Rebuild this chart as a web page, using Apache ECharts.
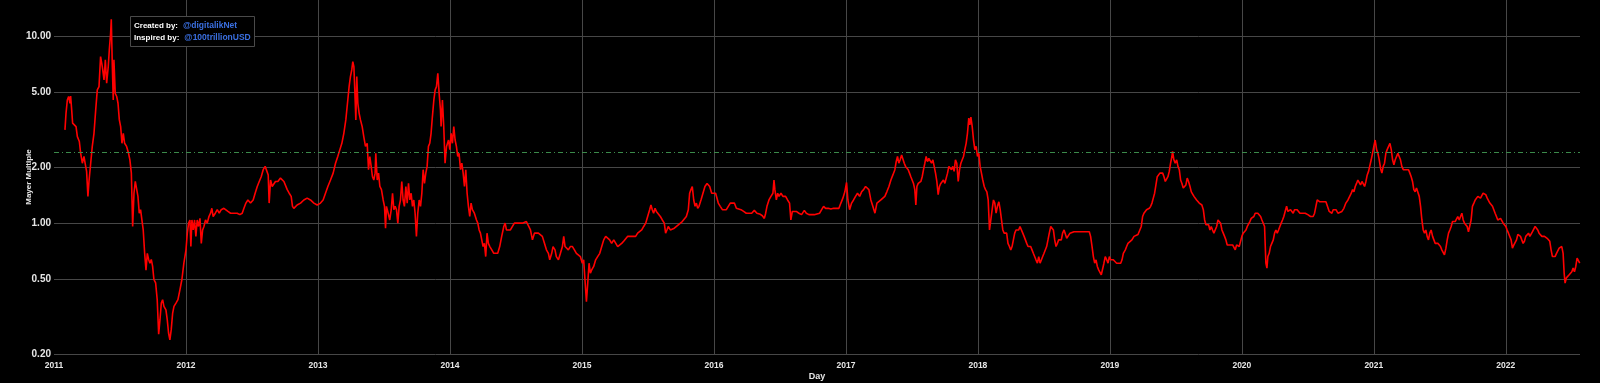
<!DOCTYPE html>
<html>
<head>
<meta charset="utf-8">
<script src="https://cdn.jsdelivr.net/npm/echarts@6/dist/echarts.min.js"></script>
<style>
html,body{margin:0;padding:0;background:#000;}
#chart{width:1600px;height:383px;}
</style>
</head>
<body>
<div id="chart"></div>
<script>
// Dates as decimal years
const dates = [
2011.083,2011.091,2011.101,2011.111,2011.121,2011.126,2011.134,2011.141,2011.156,2011.167,
2011.177,2011.192,2011.202,2011.215,2011.227,2011.240,2011.247,2011.257,2011.265,2011.278,
2011.290,2011.303,2011.316,2011.328,2011.341,2011.353,2011.366,2011.379,2011.389,2011.399,
2011.411,2011.419,2011.429,2011.434,2011.442,2011.449,2011.454,2011.464,2011.475,2011.485,
2011.495,2011.505,2011.515,2011.525,2011.535,2011.550,2011.565,2011.575,2011.586,2011.596,
2011.606,2011.616,2011.626,2011.636,2011.646,2011.656,2011.666,2011.676,2011.687,2011.697,
2011.707,2011.717,2011.727,2011.737,2011.747,2011.757,2011.770,2011.782,2011.793,2011.803,
2011.813,2011.823,2011.833,2011.848,2011.858,2011.868,2011.878,2011.888,2011.899,2011.909,
2011.924,2011.939,2011.954,2011.969,2011.984,2012.000,2012.010,2012.020,2012.030,2012.037,
2012.045,2012.055,2012.065,2012.075,2012.085,2012.095,2012.106,2012.116,2012.126,2012.136,
2012.148,2012.161,2012.174,2012.186,2012.196,2012.206,2012.222,2012.237,2012.252,2012.267,
2012.287,2012.302,2012.318,2012.338,2012.363,2012.388,2012.408,2012.426,2012.439,2012.454,
2012.469,2012.489,2012.509,2012.524,2012.540,2012.555,2012.570,2012.585,2012.600,2012.615,
2012.623,2012.630,2012.641,2012.653,2012.666,2012.678,2012.696,2012.716,2012.742,2012.757,
2012.767,2012.782,2012.797,2012.807,2012.817,2012.842,2012.868,2012.893,2012.918,2012.943,
2012.969,2012.994,2013.019,2013.039,2013.057,2013.075,2013.095,2013.115,2013.133,2013.150,
2013.166,2013.181,2013.196,2013.211,2013.226,2013.236,2013.246,2013.256,2013.264,2013.272,
2013.279,2013.287,2013.294,2013.302,2013.312,2013.322,2013.335,2013.347,2013.360,2013.373,
2013.383,2013.393,2013.403,2013.413,2013.423,2013.433,2013.438,2013.449,2013.459,2013.469,
2013.481,2013.494,2013.504,2013.512,2013.519,2013.532,2013.544,2013.555,2013.565,2013.575,
2013.585,2013.595,2013.605,2013.615,2013.625,2013.635,2013.645,2013.655,2013.666,2013.676,
2013.686,2013.696,2013.706,2013.716,2013.726,2013.736,2013.746,2013.756,2013.767,2013.777,
2013.787,2013.797,2013.807,2013.817,2013.827,2013.837,2013.847,2013.857,2013.867,2013.878,
2013.888,2013.898,2013.908,2013.918,2013.928,2013.933,2013.943,2013.953,2013.963,2013.974,
2013.989,2013.999,2014.009,2014.019,2014.029,2014.039,2014.049,2014.059,2014.069,2014.080,
2014.090,2014.100,2014.110,2014.120,2014.130,2014.140,2014.150,2014.160,2014.170,2014.185,
2014.201,2014.211,2014.221,2014.231,2014.241,2014.251,2014.261,2014.271,2014.281,2014.291,
2014.302,2014.317,2014.332,2014.347,2014.362,2014.377,2014.392,2014.408,2014.418,2014.428,
2014.443,2014.458,2014.473,2014.488,2014.503,2014.519,2014.534,2014.549,2014.564,2014.579,
2014.594,2014.610,2014.625,2014.640,2014.655,2014.670,2014.685,2014.700,2014.716,2014.731,
2014.746,2014.756,2014.771,2014.781,2014.796,2014.806,2014.822,2014.837,2014.852,2014.862,
2014.872,2014.882,2014.897,2014.912,2014.928,2014.943,2014.958,2014.973,2014.988,2015.003,
2015.013,2015.023,2015.034,2015.044,2015.054,2015.064,2015.074,2015.089,2015.104,2015.119,
2015.135,2015.150,2015.165,2015.180,2015.195,2015.210,2015.225,2015.241,2015.256,2015.271,
2015.286,2015.301,2015.316,2015.331,2015.347,2015.362,2015.377,2015.392,2015.407,2015.422,
2015.437,2015.453,2015.468,2015.483,2015.498,2015.513,2015.523,2015.533,2015.543,2015.554,
2015.564,2015.579,2015.594,2015.609,2015.624,2015.634,2015.644,2015.654,2015.670,2015.685,
2015.700,2015.715,2015.730,2015.745,2015.760,2015.775,2015.791,2015.806,2015.816,2015.826,
2015.836,2015.847,2015.857,2015.867,2015.877,2015.887,2015.902,2015.917,2015.932,2015.948,
2015.958,2015.968,2015.983,2015.998,2016.013,2016.023,2016.033,2016.048,2016.064,2016.079,
2016.094,2016.109,2016.124,2016.139,2016.155,2016.170,2016.185,2016.205,2016.225,2016.245,
2016.266,2016.286,2016.306,2016.326,2016.346,2016.367,2016.382,2016.392,2016.402,2016.417,
2016.432,2016.447,2016.455,2016.462,2016.473,2016.483,2016.493,2016.508,2016.523,2016.543,
2016.558,2016.573,2016.583,2016.594,2016.609,2016.624,2016.644,2016.664,2016.685,2016.700,
2016.720,2016.740,2016.760,2016.780,2016.801,2016.816,2016.831,2016.846,2016.866,2016.886,
2016.907,2016.927,2016.947,2016.962,2016.977,2016.992,2017.005,2017.015,2017.028,2017.043,
2017.058,2017.073,2017.088,2017.104,2017.119,2017.134,2017.149,2017.164,2017.174,2017.189,
2017.204,2017.220,2017.235,2017.250,2017.265,2017.280,2017.295,2017.310,2017.326,2017.341,
2017.356,2017.371,2017.381,2017.391,2017.401,2017.411,2017.422,2017.432,2017.442,2017.452,
2017.462,2017.472,2017.482,2017.492,2017.502,2017.512,2017.522,2017.530,2017.538,2017.548,
2017.558,2017.568,2017.578,2017.588,2017.598,2017.608,2017.618,2017.628,2017.639,2017.649,
2017.659,2017.669,2017.679,2017.689,2017.699,2017.709,2017.719,2017.729,2017.739,2017.750,
2017.760,2017.770,2017.780,2017.790,2017.800,2017.810,2017.820,2017.830,2017.840,2017.851,
2017.861,2017.871,2017.881,2017.891,2017.901,2017.911,2017.921,2017.931,2017.939,2017.947,
2017.957,2017.967,2017.977,2017.987,2017.997,2018.007,2018.017,2018.027,2018.037,2018.048,
2018.058,2018.068,2018.078,2018.088,2018.098,2018.108,2018.118,2018.128,2018.138,2018.148,
2018.159,2018.169,2018.179,2018.189,2018.199,2018.209,2018.218,2018.228,2018.239,2018.249,
2018.259,2018.269,2018.279,2018.289,2018.299,2018.309,2018.319,2018.329,2018.340,2018.350,
2018.360,2018.370,2018.380,2018.390,2018.400,2018.410,2018.420,2018.430,2018.440,2018.451,
2018.461,2018.471,2018.481,2018.491,2018.501,2018.511,2018.521,2018.531,2018.541,2018.552,
2018.562,2018.572,2018.582,2018.592,2018.602,2018.612,2018.622,2018.632,2018.642,2018.653,
2018.663,2018.673,2018.683,2018.698,2018.713,2018.728,2018.743,2018.759,2018.774,2018.789,
2018.804,2018.819,2018.834,2018.844,2018.854,2018.865,2018.875,2018.885,2018.895,2018.905,
2018.915,2018.925,2018.935,2018.945,2018.955,2018.965,2018.976,2018.986,2018.996,2019.006,
2019.016,2019.026,2019.036,2019.051,2019.066,2019.082,2019.092,2019.102,2019.117,2019.127,
2019.137,2019.152,2019.167,2019.183,2019.198,2019.213,2019.228,2019.238,2019.248,2019.258,
2019.268,2019.278,2019.288,2019.299,2019.309,2019.319,2019.329,2019.339,2019.349,2019.359,
2019.369,2019.379,2019.389,2019.400,2019.410,2019.420,2019.430,2019.440,2019.450,2019.460,
2019.470,2019.475,2019.485,2019.495,2019.506,2019.516,2019.526,2019.536,2019.546,2019.556,
2019.566,2019.576,2019.586,2019.596,2019.607,2019.617,2019.627,2019.637,2019.647,2019.657,
2019.667,2019.677,2019.687,2019.697,2019.708,2019.718,2019.728,2019.738,2019.748,2019.758,
2019.768,2019.778,2019.788,2019.798,2019.809,2019.819,2019.829,2019.839,2019.849,2019.859,
2019.869,2019.879,2019.889,2019.899,2019.910,2019.920,2019.930,2019.940,2019.950,2019.960,
2019.970,2019.980,2019.990,2020.000,2020.010,2020.020,2020.031,2020.041,2020.051,2020.061,
2020.071,2020.081,2020.091,2020.101,2020.111,2020.121,2020.132,2020.142,2020.152,2020.162,
2020.172,2020.182,2020.190,2020.197,2020.207,2020.217,2020.227,2020.238,2020.248,2020.258,
2020.268,2020.278,2020.288,2020.298,2020.308,2020.318,2020.328,2020.339,2020.349,2020.359,
2020.369,2020.379,2020.389,2020.399,2020.409,2020.419,2020.429,2020.440,2020.450,2020.460,
2020.470,2020.480,2020.490,2020.500,2020.510,2020.520,2020.530,2020.540,2020.551,2020.561,
2020.571,2020.581,2020.591,2020.601,2020.607,2020.622,2020.637,2020.652,2020.662,2020.672,
2020.682,2020.692,2020.703,2020.713,2020.728,2020.743,2020.758,2020.773,2020.788,2020.804,
2020.819,2020.829,2020.839,2020.849,2020.859,2020.869,2020.879,2020.889,2020.899,2020.910,
2020.920,2020.930,2020.940,2020.950,2020.960,2020.970,2020.980,2020.990,2021.000,2021.010,
2021.021,2021.031,2021.041,2021.051,2021.061,2021.071,2021.081,2021.091,2021.101,2021.111,
2021.122,2021.132,2021.142,2021.152,2021.162,2021.172,2021.182,2021.192,2021.202,2021.212,
2021.223,2021.233,2021.243,2021.253,2021.263,2021.273,2021.283,2021.293,2021.303,2021.313,
2021.323,2021.334,2021.344,2021.354,2021.364,2021.374,2021.384,2021.394,2021.404,2021.414,
2021.424,2021.434,2021.445,2021.455,2021.465,2021.475,2021.485,2021.495,2021.505,2021.515,
2021.525,2021.535,2021.546,2021.556,2021.566,2021.576,2021.586,2021.596,2021.606,2021.616,
2021.626,2021.636,2021.647,2021.657,2021.667,2021.677,2021.687,2021.697,2021.707,2021.717,
2021.727,2021.737,2021.747,2021.758,2021.768,2021.778,2021.788,2021.798,2021.808,2021.818,
2021.828,2021.838,2021.848,2021.859,2021.869,2021.879,2021.889,2021.899,2021.909,2021.919,
2021.929,2021.939,2021.949,2021.960,2021.970,2021.980,2021.990,2022.000,2022.010,2022.020,
2022.030,2022.040,2022.050,2022.061,2022.071,2022.081,2022.091,2022.101,2022.111,2022.121,
2022.131,2022.141,2022.151,2022.161,2022.172,2022.182,2022.192,2022.202,2022.212,2022.222,
2022.232,2022.242,2022.252,2022.262,2022.273,2022.283,2022.293,2022.303,2022.313,2022.323,
2022.333,2022.343,2022.353,2022.363,2022.373,2022.384,2022.394,2022.404,2022.414,2022.424,
2022.434,2022.442,2022.449,2022.459,2022.469,2022.480,2022.490,2022.500,2022.510,2022.520,
2022.530,2022.540,2022.550,2022.560
];
// Mayer Multiple values (same order as dates)
const mayer = [
3.15,3.86,4.55,4.75,4.37,4.78,4.03,3.42,3.49,3.28,
2.90,2.73,2.36,2.09,2.27,2.01,1.89,1.39,1.67,2.09,
2.57,3.02,4.03,5.15,5.36,7.76,6.86,5.82,7.45,5.59,
6.86,8.42,10.33,12.27,6.86,4.55,7.45,4.94,4.75,4.37,
3.56,3.28,2.67,3.02,2.67,2.57,2.36,2.18,1.85,0.96,
1.445,1.67,1.67,1.39,1.13,1.18,1.04,0.92,0.69,0.56,
0.69,0.64,0.61,0.64,0.59,0.50,0.48,0.39,0.255,0.305,
0.374,0.39,0.359,0.344,0.305,0.259,0.238,0.269,0.331,0.359,
0.374,0.39,0.44,0.50,0.611,0.72,0.884,1.0,1.04,0.75,
1.04,0.92,1.04,0.85,1.04,0.96,1.06,0.78,0.92,0.96,
1.04,1.0,1.085,1.13,1.20,1.085,1.13,1.18,1.13,1.18,
1.20,1.18,1.155,1.13,1.13,1.13,1.11,1.13,1.20,1.28,
1.33,1.28,1.33,1.445,1.57,1.67,1.77,1.93,2.01,2.05,
1.81,1.28,1.70,1.57,1.60,1.67,1.67,1.74,1.67,1.67,
1.51,1.445,1.39,1.23,1.20,1.25,1.28,1.33,1.36,1.33,
1.28,1.25,1.28,1.33,1.445,1.57,1.70,1.85,2.09,2.27,
2.47,2.67,3.02,3.56,4.55,5.36,6.07,6.58,7.29,6.86,
5.15,3.56,6.07,4.37,3.86,3.56,3.28,2.90,2.57,2.67,
1.93,2.27,2.01,1.77,1.70,1.85,2.36,1.70,1.85,1.57,
1.51,1.33,1.23,0.94,1.23,1.13,1.04,1.18,1.445,1.18,
1.23,1.18,1.0,1.23,1.33,1.67,1.33,1.23,1.57,1.28,
1.63,1.33,1.445,1.23,1.33,1.13,0.85,1.13,1.33,1.23,
1.445,1.93,1.63,1.85,2.01,2.57,2.67,3.02,3.71,4.55,
5.15,5.36,6.32,4.94,4.03,3.28,4.55,3.28,2.09,2.57,
2.78,2.47,3.02,2.67,3.28,2.78,2.57,2.27,2.36,1.93,
2.09,1.85,1.57,1.93,1.445,1.23,1.085,1.28,1.18,1.13,
1.04,1.0,0.92,0.884,0.814,0.75,0.78,0.663,0.884,0.78,
0.75,0.72,0.69,0.69,0.69,0.75,0.85,0.96,1.0,0.92,
0.90,0.92,0.94,1.0,1.02,1.0,1.02,1.0,1.0,1.02,
1.0,0.92,0.814,0.884,0.87,0.884,0.884,0.85,0.78,0.72,
0.69,0.637,0.69,0.75,0.72,0.663,0.637,0.69,0.75,0.85,
0.75,0.75,0.72,0.75,0.75,0.72,0.69,0.69,0.663,0.611,
0.637,0.50,0.38,0.478,0.611,0.54,0.563,0.587,0.637,0.663,
0.69,0.75,0.814,0.85,0.87,0.814,0.78,0.814,0.80,0.75,
0.75,0.78,0.80,0.814,0.85,0.83,0.85,0.87,0.85,0.884,
0.884,0.92,0.96,1.0,1.085,1.18,1.25,1.18,1.13,1.20,
1.155,1.13,1.085,1.04,1.0,0.884,0.92,0.96,0.92,0.94,
0.94,0.96,0.98,1.0,1.02,1.04,1.085,1.18,1.445,1.51,
1.57,1.33,1.23,1.28,1.20,1.23,1.33,1.445,1.57,1.63,
1.63,1.57,1.445,1.47,1.445,1.47,1.28,1.23,1.18,1.20,
1.18,1.23,1.28,1.30,1.28,1.20,1.18,1.18,1.155,1.13,
1.13,1.13,1.17,1.13,1.12,1.095,1.06,1.13,1.23,1.33,
1.39,1.445,1.70,1.51,1.33,1.445,1.39,1.445,1.39,1.39,
1.33,1.28,1.04,1.155,1.13,1.155,1.13,1.11,1.17,1.13,
1.11,1.11,1.11,1.12,1.13,1.18,1.23,1.20,1.20,1.19,
1.20,1.20,1.20,1.28,1.36,1.47,1.65,1.33,1.18,1.28,
1.33,1.39,1.445,1.39,1.47,1.51,1.57,1.60,1.51,1.33,
1.23,1.13,1.28,1.30,1.33,1.36,1.39,1.47,1.57,1.70,
1.81,1.93,2.13,2.27,2.09,2.18,2.31,2.36,2.09,2.01,
2.01,1.93,1.85,1.77,1.74,1.63,1.51,1.25,1.57,1.63,
1.60,1.67,1.77,1.93,2.09,2.27,2.13,2.22,2.27,2.09,
2.18,2.01,1.85,1.67,1.42,1.57,1.63,1.67,1.70,1.63,
1.74,1.85,2.01,2.05,1.93,2.01,1.89,2.18,2.09,1.67,
1.93,2.09,2.13,2.27,2.47,2.67,3.02,3.64,3.35,3.68,
3.28,2.78,2.47,2.57,2.27,2.36,2.01,1.85,1.70,1.57,
1.51,1.47,1.33,0.92,1.04,1.18,1.33,1.28,1.13,1.23,
1.30,1.18,1.04,0.92,0.884,0.884,0.884,0.78,0.75,0.72,
0.75,0.814,0.884,0.92,0.94,0.92,0.96,0.94,0.884,0.85,
0.814,0.78,0.75,0.735,0.75,0.72,0.69,0.663,0.637,0.611,
0.663,0.611,0.611,0.663,0.69,0.69,0.75,0.814,0.884,0.96,
0.96,0.92,0.814,0.75,0.78,0.814,0.83,0.814,0.884,0.92,
0.92,0.83,0.85,0.884,0.884,0.90,0.884,0.90,0.884,0.90,
0.884,0.90,0.90,0.90,0.85,0.75,0.663,0.611,0.637,0.587,
0.563,0.55,0.53,0.519,0.611,0.663,0.637,0.611,0.663,0.637,
0.624,0.637,0.624,0.611,0.624,0.611,0.637,0.69,0.72,0.75,
0.78,0.765,0.814,0.85,0.85,0.87,0.884,0.96,1.085,1.13,
1.155,1.18,1.18,1.20,1.23,1.28,1.36,1.445,1.60,1.77,
1.81,1.85,1.89,1.85,1.77,1.67,1.70,1.77,1.89,2.09,
2.27,2.42,2.18,2.09,2.18,2.01,1.93,1.70,1.63,1.54,
1.51,1.60,1.74,1.67,1.57,1.47,1.445,1.39,1.36,1.33,
1.33,1.28,1.28,1.25,1.18,1.04,0.98,0.96,0.98,0.92,
0.96,0.92,0.884,0.884,0.96,1.04,1.02,1.0,0.92,0.884,
0.85,0.814,0.765,0.75,0.765,0.78,0.765,0.75,0.72,0.765,
0.78,0.75,0.765,0.85,0.884,0.90,0.92,0.96,0.96,1.02,
1.06,1.04,1.085,1.13,1.155,1.13,1.11,1.085,1.04,1.04,
0.96,0.611,0.575,0.663,0.69,0.75,0.78,0.814,0.884,0.92,
0.884,0.92,0.96,1.0,1.04,1.085,1.155,1.23,1.155,1.13,
1.18,1.18,1.13,1.18,1.20,1.18,1.155,1.13,1.13,1.13,
1.11,1.13,1.11,1.11,1.085,1.085,1.11,1.085,1.13,1.23,
1.33,1.36,1.30,1.33,1.30,1.33,1.30,1.28,1.155,1.18,
1.13,1.18,1.155,1.18,1.13,1.13,1.155,1.20,1.28,1.33,
1.36,1.445,1.51,1.47,1.57,1.63,1.70,1.67,1.60,1.67,
1.63,1.57,1.67,1.81,1.89,1.93,2.18,2.36,2.57,2.78,
2.47,2.36,2.18,1.96,1.85,2.01,2.09,2.36,2.47,2.52,
2.67,2.47,2.18,2.05,2.18,2.22,2.36,2.27,2.18,2.01,
1.93,1.97,1.93,1.89,1.93,1.85,1.77,1.67,1.51,1.47,
1.54,1.51,1.39,1.23,1.04,0.92,0.884,0.92,0.85,0.814,
0.884,0.92,0.85,0.814,0.78,0.765,0.78,0.765,0.75,0.72,
0.705,0.677,0.735,0.814,0.884,0.92,0.96,1.02,1.04,1.02,
1.04,1.085,1.04,1.085,1.13,1.04,1.0,1.02,0.96,0.90,
0.92,1.04,1.23,1.28,1.33,1.36,1.39,1.42,1.36,1.39,
1.445,1.47,1.42,1.36,1.33,1.28,1.25,1.23,1.18,1.13,
1.085,1.04,1.02,1.06,1.04,1.0,0.98,0.96,0.92,0.884,
0.87,0.814,0.735,0.765,0.78,0.814,0.87,0.884,0.85,0.814,
0.78,0.80,0.85,0.87,0.884,0.85,0.87,0.90,0.92,0.96,
0.96,0.92,0.884,0.87,0.85,0.83,0.85,0.85,0.83,0.814,
0.80,0.72,0.663,0.677,0.663,0.69,0.69,0.735,0.735,0.75,
0.69,0.54,0.478,0.51,0.519,0.53,0.519,0.55,0.575,0.55,
0.587,0.65,0.637,0.611
];
const yTicks = [0.2, 0.5, 1, 2, 5, 10];
const xTickYears = [2011, 2012, 2013, 2014, 2015, 2016, 2017, 2018, 2019, 2020, 2021, 2022];
const threshold = 2.4;
const xStartYear = 2011.0;
const xEndYear = 2022.562;
const yMin = 0.2;
const yMax = 15.56;

const n = Math.min(dates.length, mayer.length);
const seriesData = [];
for (let i = 0; i < n; i++) seriesData.push([dates[i], mayer[i]]);

const FONT = '"Liberation Sans", Arial, sans-serif';
const chart = echarts.init(document.getElementById('chart'), null, {renderer: 'canvas'});
chart.setOption({
  backgroundColor: '#000000',
  animation: false,
  textStyle: {fontFamily: FONT},
  grid: {left: 54, right: 20, top: 0, bottom: 29, containLabel: false, outerBoundsMode: 'none'},
  title: {
    text: '{b|Created by:} {l|@digitalikNet}\n{b|Inspired by:} {l|@100trillionUSD}',
    left: 130, top: 19,
    padding: [1, 4, 0, 4],
    backgroundColor: '#000000',
    borderColor: '#4a4a4a', borderWidth: 1,
    textStyle: {
      lineHeight: 11.6,
      rich: {
        b: {color: '#ffffff', fontWeight: 'bold', fontSize: 8, fontFamily: FONT, lineHeight: 11.6},
        l: {color: '#3a6fe0', fontSize: 8.5, fontFamily: FONT, lineHeight: 11.6}
      }
    }
  },
  xAxis: {
    type: 'value',
    min: xStartYear,
    max: xEndYear,
    name: 'Day',
    nameLocation: 'middle',
    nameGap: 18,
    nameMoveOverlap: false,
    nameTextStyle: {color: '#e6e6e6', fontSize: 9, fontWeight: 'bold', fontFamily: FONT},
    axisLine: {show: false},
    axisTick: {show: false, customValues: xTickYears.slice(1)},
    axisLabel: {
      customValues: xTickYears,
      formatter: v => String(Math.round(v)),
      color: '#e6e6e6', fontSize: 8.5, fontWeight: 'bold', fontFamily: FONT, margin: 7
    },
    splitLine: {show: true, lineStyle: {color: '#474747', width: 1}}
  },
  yAxis: {
    type: 'log',
    logBase: 10,
    min: yMin,
    max: yMax,
    name: 'Mayer Multiple',
    nameLocation: 'middle',
    nameRotate: 90,
    nameGap: 21,
    nameMoveOverlap: false,
    nameTextStyle: {color: '#e6e6e6', fontSize: 8, fontWeight: 'bold', fontFamily: FONT},
    axisLine: {show: false},
    axisTick: {show: false, customValues: yTicks},
    axisLabel: {
      customValues: yTicks,
      formatter: v => Number(v).toFixed(2),
      color: '#e6e6e6', fontSize: 10, fontWeight: 'bold', fontFamily: FONT, margin: 3
    },
    splitLine: {show: true, lineStyle: {color: '#474747', width: 1}}
  },
  series: [{
    type: 'line',
    data: seriesData,
    showSymbol: false,
    symbol: 'none',
    lineStyle: {color: '#ff0000', width: 1.6},
    markLine: {
      silent: true,
      symbol: 'none',
      label: {show: false},
      lineStyle: {color: '#3b8a4a', width: 1, type: [5, 3, 1, 3]},
      data: [{yAxis: threshold}]
    }
  }]
});
</script>
</body>
</html>
